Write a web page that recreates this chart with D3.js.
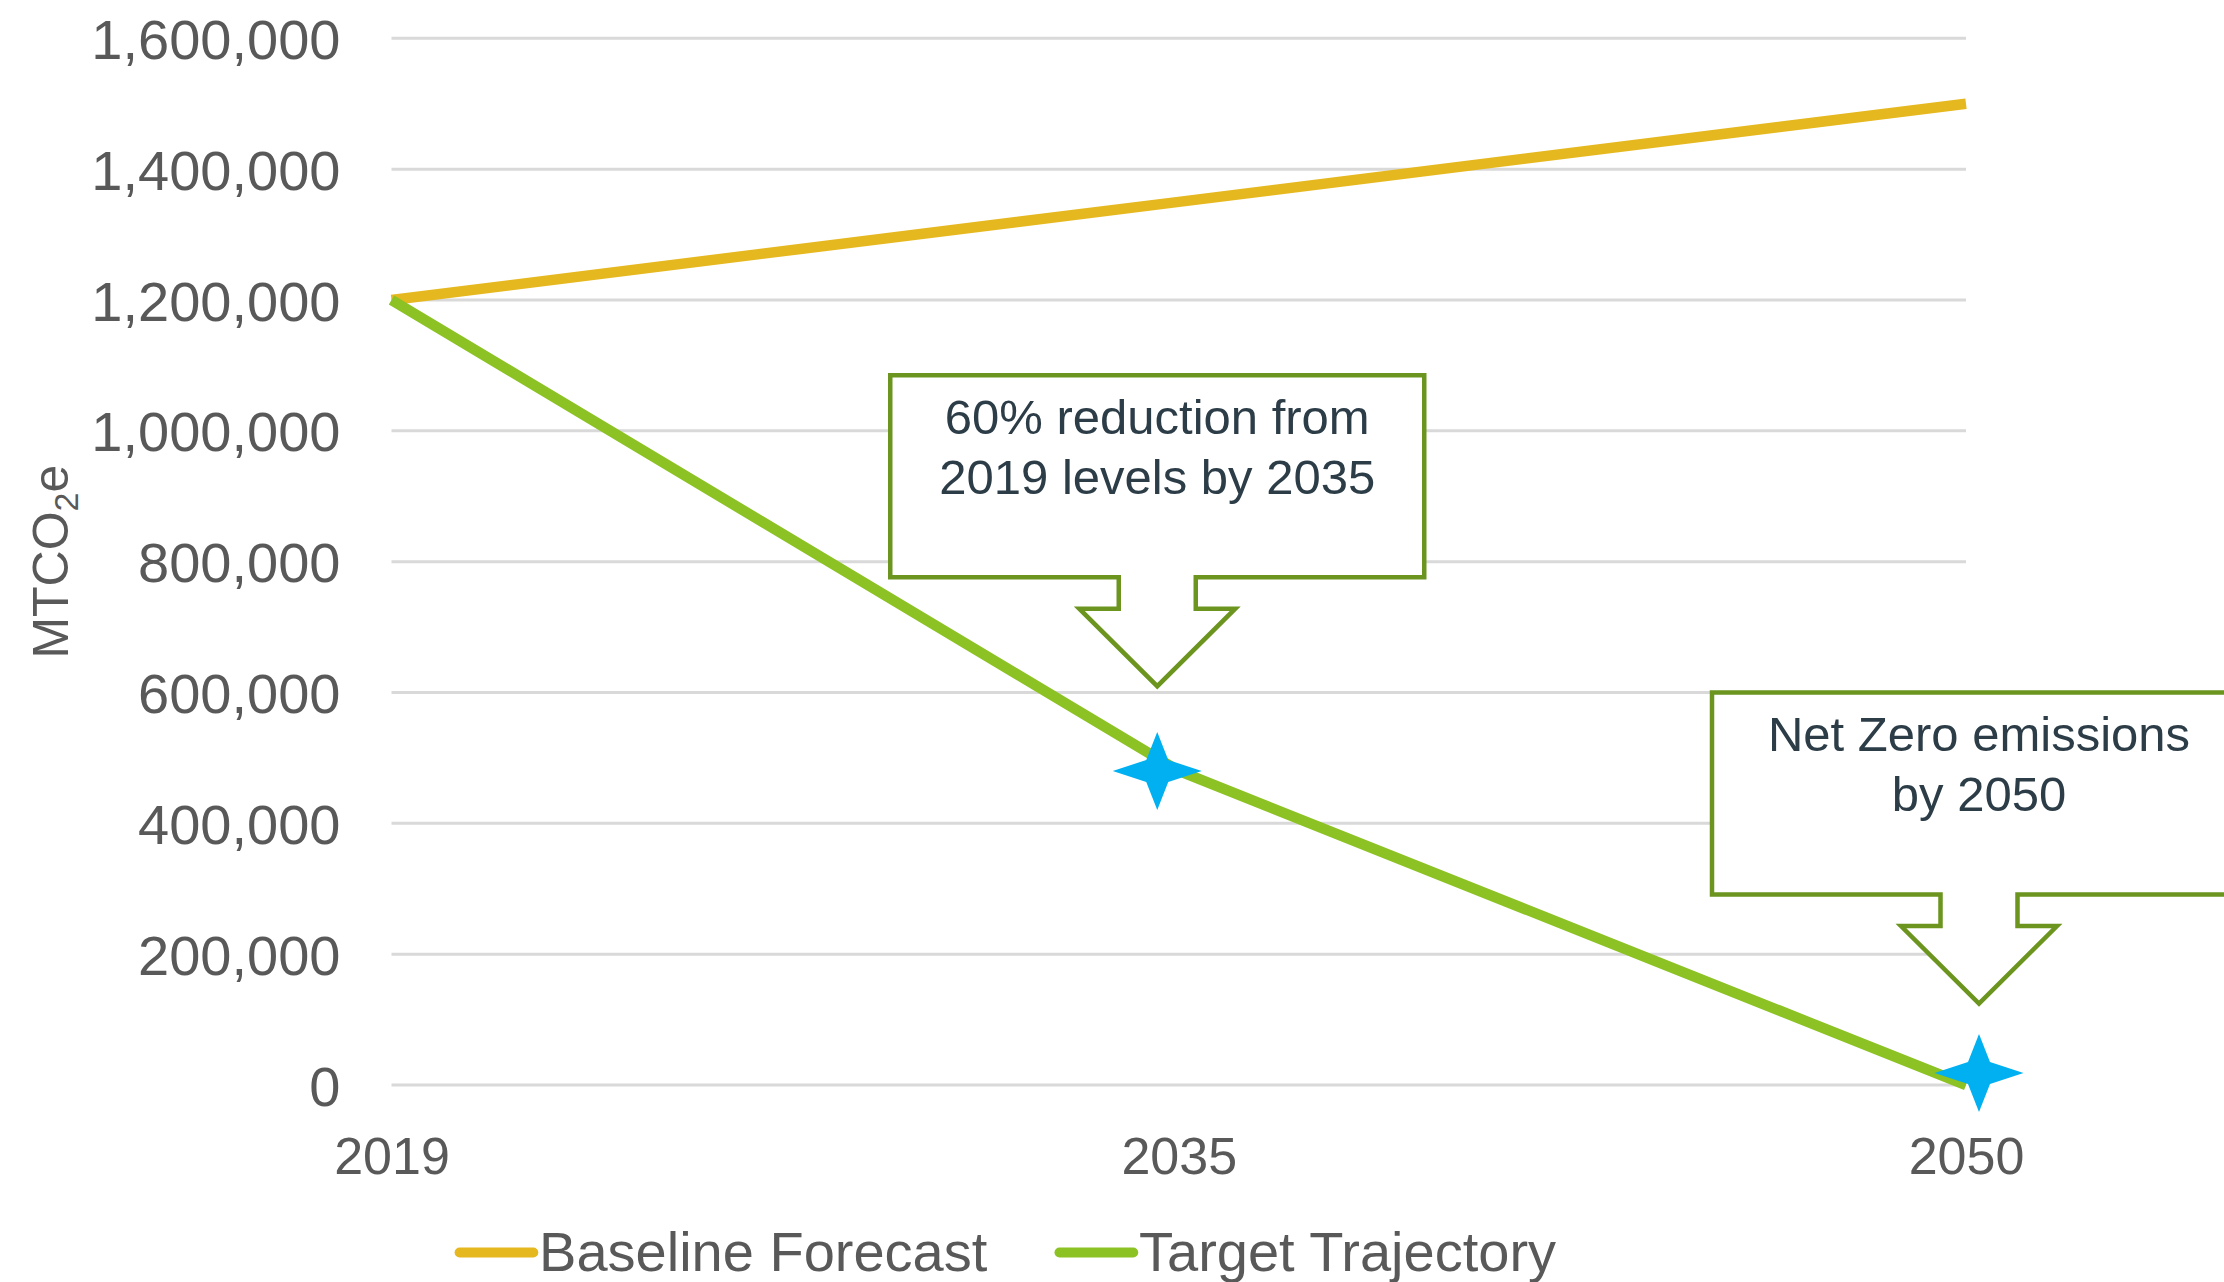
<!DOCTYPE html>
<html>
<head>
<meta charset="utf-8">
<script src="https://cdn.jsdelivr.net/npm/d3@7"></script>
<style>
  html, body { margin: 0; padding: 0; background: #ffffff; }
  svg { display: block; }
</style>
</head>
<body>
<svg id="chart" width="2224" height="1282"></svg>
<script>
// Emission pathways (tonnes CO2e)
const categories = ["2019", "2035", "2050"];
const seriesNames = ["Baseline Forecast", "Target Trajectory"];
const baselineForecast = [1200000, 1350000, 1500000];
const targetTrajectory = [1200000, 480000, 0];
const yTicks = [0, 200000, 400000, 600000, 800000, 1000000, 1200000, 1400000, 1600000];

// Milestones highlighted with a star and a callout
const milestoneYears = ["2035", "2050"];
const milestoneValues = [480000, 0];
const calloutLines = [
  ["60% reduction from", "2019 levels by 2035"],
  ["Net Zero emissions", "by 2050"]
];
const calloutTopValues = [1085000, 600000];

// Styling and layout
const W = 2224, H = 1282;
const plot = { left: 391.5, right: 1966, top: 38.3, bottom: 1085 };
const colors = {
  baseline: "#E6B81F",
  target: "#8CC223",
  star: "#00B0F0",
  callout: "#6B951F",
  grid: "#D9D9D9",
  axisText: "#595959",
  calloutText: "#2C3D48"
};
const seriesColors = [colors.baseline, colors.target];
const FONT = "'Liberation Sans', Arial, sans-serif";
const starNudge = [[-21.5, 0], [13, -12]];
const callout = { width: 534, height: 202, neckHalf: 38.5, neckDrop: 31.5, wingHalf: 78, tipDrop: 109 };

const svg = d3.select("#chart");

const x = d3.scalePoint().domain(categories).range([plot.left, plot.right]);
const y = d3.scaleLinear().domain([0, 1600000]).range([plot.bottom, plot.top]);

// Horizontal gridlines
svg.append("g")
  .selectAll("line")
  .data(yTicks)
  .join("line")
  .attr("x1", plot.left)
  .attr("x2", plot.right)
  .attr("y1", d => y(d))
  .attr("y2", d => y(d))
  .attr("stroke", colors.grid)
  .attr("stroke-width", 3);

// Y axis (labels only)
const yAxis = d3.axisLeft(y)
  .tickValues(yTicks)
  .tickFormat(d3.format(","))
  .tickSize(0)
  .tickPadding(51);
const gy = svg.append("g")
  .attr("transform", `translate(${plot.left},0)`)
  .call(yAxis);
gy.select(".domain").remove();
gy.selectAll("text")
  .attr("fill", colors.axisText)
  .attr("font-family", FONT)
  .attr("font-size", 56)
  .attr("dy", "0.36em");

// X axis (labels only)
const xAxis = d3.axisBottom(x).tickSize(0).tickPadding(0);
const gx = svg.append("g")
  .attr("transform", `translate(0,${plot.bottom})`)
  .call(xAxis);
gx.select(".domain").remove();
gx.selectAll("text")
  .attr("fill", colors.axisText)
  .attr("font-family", FONT)
  .attr("font-size", 52)
  .attr("dy", null)
  .attr("y", 89);

// Y axis title: MTCO2e
const yTitle = svg.append("text")
  .attr("transform", `translate(68,${(plot.top + plot.bottom) / 2}) rotate(-90)`)
  .attr("text-anchor", "middle")
  .attr("fill", colors.axisText)
  .attr("font-family", FONT)
  .attr("font-size", 50);
yTitle.append("tspan").text("MTCO");
yTitle.append("tspan").attr("font-size", 34).attr("dy", 10).text("2");
yTitle.append("tspan").attr("dy", -10).text("e");

// Series lines
const line = d3.line()
  .x((d, i) => x(categories[i]))
  .y(d => y(d));

[baselineForecast, targetTrajectory].forEach((values, k) => {
  svg.append("path")
    .datum(values)
    .attr("d", line)
    .attr("fill", "none")
    .attr("stroke", seriesColors[k])
    .attr("stroke-width", 10.5)
    .attr("stroke-linejoin", "round");
});

// Callouts with down-pointing arrows
function calloutPath(cx, top) {
  const c = callout;
  const l = cx - c.width / 2, r = cx + c.width / 2, b = top + c.height;
  const pts = [
    [l, top], [r, top], [r, b], [cx + c.neckHalf, b], [cx + c.neckHalf, b + c.neckDrop],
    [cx + c.wingHalf, b + c.neckDrop], [cx, b + c.tipDrop], [cx - c.wingHalf, b + c.neckDrop],
    [cx - c.neckHalf, b + c.neckDrop], [cx - c.neckHalf, b], [l, b]
  ];
  return "M" + pts.map(p => p.join(",")).join("L") + "Z";
}

milestoneYears.forEach((yr, i) => {
  const cx = x(yr) + starNudge[i][0];
  const top = y(calloutTopValues[i]);
  const g = svg.append("g");
  g.append("path")
    .attr("d", calloutPath(cx, top))
    .attr("fill", "#ffffff")
    .attr("stroke", colors.callout)
    .attr("stroke-width", 4.5)
    .attr("stroke-linejoin", "miter");
  g.append("text")
    .attr("text-anchor", "middle")
    .attr("fill", colors.calloutText)
    .attr("font-family", FONT)
    .attr("font-size", 49)
    .selectAll("tspan")
    .data(calloutLines[i])
    .join("tspan")
    .attr("x", cx)
    .attr("y", (d, j) => top + 59 + j * 59.5)
    .text(d => d);
});

// Four-point stars on the milestones
const starShape = "M0,-39L11,-11L44.5,0L11,11L0,39L-11,11L-44.5,0L-11,-11Z";
svg.append("g")
  .selectAll("path")
  .data(milestoneYears)
  .join("path")
  .attr("d", starShape)
  .attr("transform", (d, i) =>
    `translate(${x(d) + starNudge[i][0]},${y(milestoneValues[i]) + starNudge[i][1]})`)
  .attr("fill", colors.star);

// Legend
const legendX = [459.6, 1059.5];
const legend = svg.append("g").attr("transform", "translate(0,1252.5)");
seriesNames.forEach((name, i) => {
  legend.append("line")
    .attr("x1", legendX[i])
    .attr("x2", legendX[i] + 73.7)
    .attr("stroke", seriesColors[i])
    .attr("stroke-width", 10)
    .attr("stroke-linecap", "round");
  legend.append("text")
    .attr("x", legendX[i] + 79.5)
    .attr("y", 18.5)
    .attr("fill", colors.axisText)
    .attr("font-family", FONT)
    .attr("font-size", 56)
    .text(name);
});
</script>
</body>
</html>
